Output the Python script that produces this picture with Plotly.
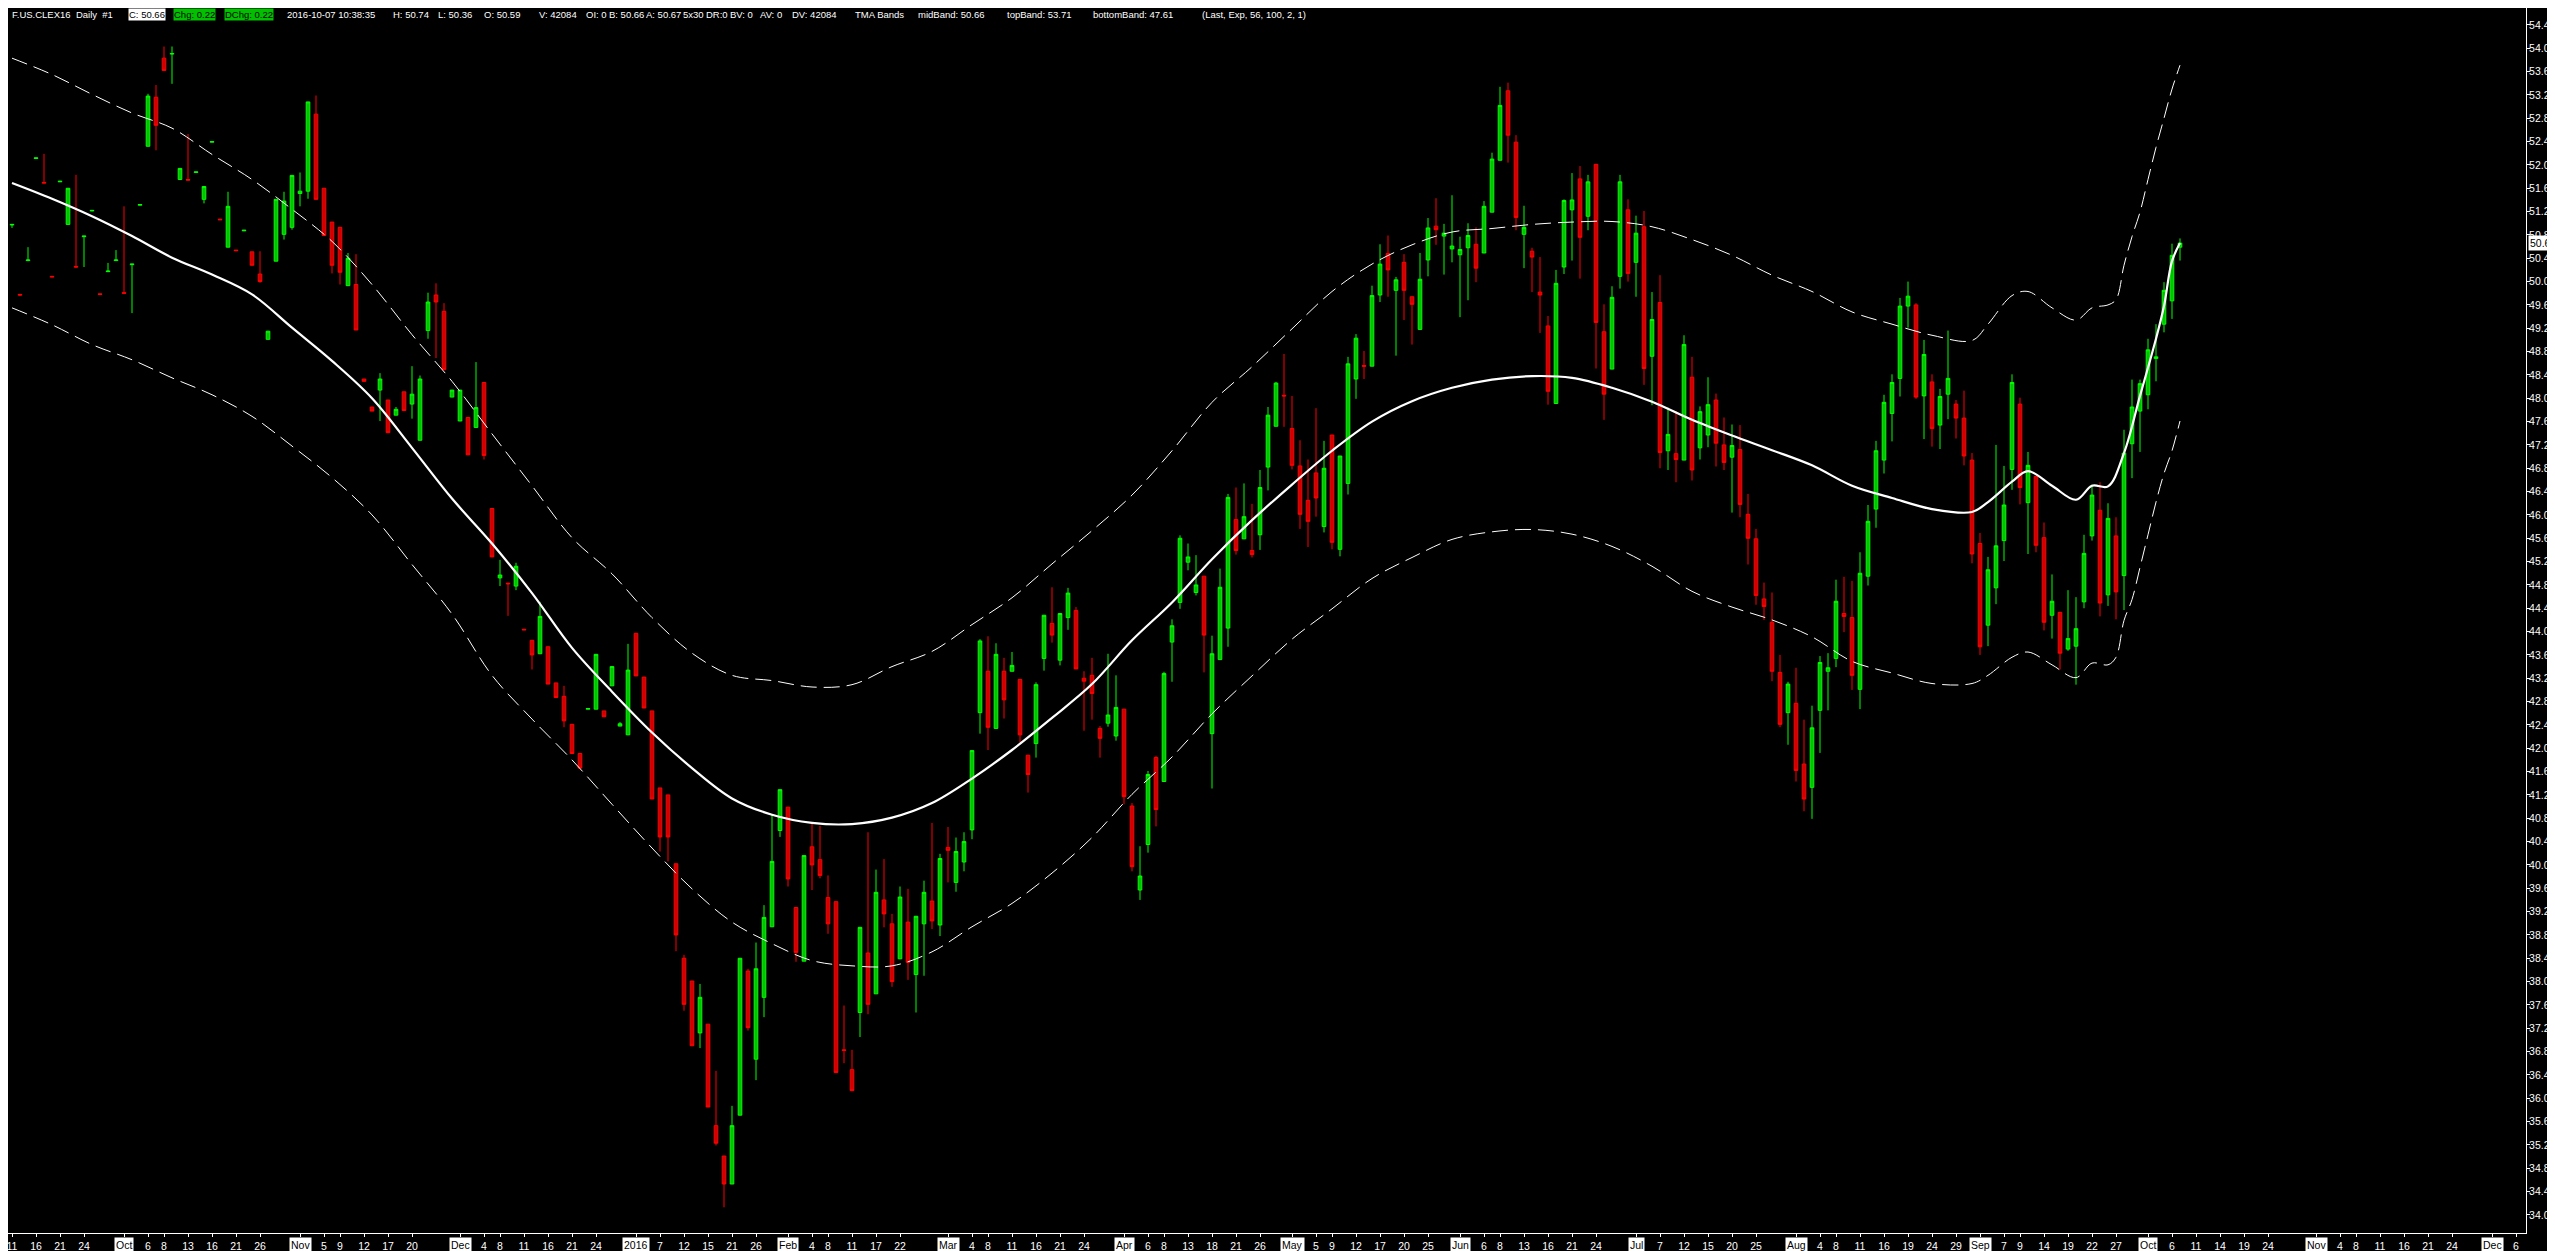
import pandas as pd
import plotly.graph_objects as go

# ---------------- data ----------------
OPEN = [50.97,49.78,50.36,52.11,51.70,50.09,51.71,50.98,50.26,50.77,
        51.21,49.79,50.17,50.36,49.81,50.29,51.31,52.32,53.16,53.83,
        53.90,51.75,51.75,51.87,51.41,52.39,51.07,50.59,50.54,50.87,
        50.51,50.13,49.01,50.35,50.81,50.93,51.51,51.55,52.87,51.60,
        51.02,50.93,49.93,49.95,48.33,47.85,48.14,47.97,47.71,48.11,
        47.90,47.28,49.16,49.77,49.49,48.02,47.61,47.67,47.50,48.27,
        46.11,44.92,44.83,44.78,44.04,43.85,43.62,43.74,43.12,42.89,
        42.41,41.91,42.67,42.67,42.64,43.07,42.38,42.23,43.97,43.22,
        42.64,41.32,41.20,40.02,38.40,38.01,37.12,37.27,35.53,35.01,
        34.53,35.71,38.18,36.67,37.73,38.94,40.59,40.99,39.27,38.35,
        40.31,40.09,39.44,39.37,36.83,36.49,37.47,38.49,37.79,39.40,
        38.99,38.39,39.02,38.12,38.99,39.38,38.97,40.30,39.70,40.05,
        40.60,42.61,43.32,42.34,43.32,43.32,43.18,41.88,42.08,43.54,
        44.14,43.51,44.24,44.36,43.20,43.25,42.34,42.43,42.21,42.67,
        41.01,39.57,40.35,41.84,41.43,43.82,44.50,45.19,44.67,44.95,
        42.25,43.52,44.06,45.92,45.59,45.39,45.66,46.82,47.52,48.05,
        47.48,46.84,46.25,46.72,45.80,47.37,45.41,46.54,48.33,48.56,
        48.55,49.77,50.48,49.85,50.33,49.74,49.18,50.37,50.95,50.78,
        50.56,50.46,50.58,50.64,50.49,51.19,52.08,53.27,52.39,50.81,
        50.52,49.82,49.24,47.91,50.25,51.23,51.76,51.12,52.01,49.14,
        48.50,50.09,51.23,50.33,50.94,48.72,49.64,47.10,47.05,46.94,
        48.36,47.15,47.37,47.97,47.20,46.99,47.12,46.01,45.59,44.56,
        44.16,43.30,42.61,42.77,41.73,41.33,42.65,43.32,43.54,44.31,
        44.24,43.01,44.95,46.10,46.94,47.74,48.34,49.58,49.60,48.04,
        48.28,47.54,48.07,47.90,47.66,46.94,45.51,44.11,44.75,45.56,
        46.78,47.90,46.21,46.66,45.61,44.28,44.33,43.70,43.75,44.51,
        45.64,46.08,44.63,45.64,44.96,47.22,47.78,48.06,48.68,49.27,
        49.67,50.59]
HIGH = [50.98,49.78,50.59,52.12,52.19,50.09,51.72,51.60,51.83,50.78,
        51.22,49.79,50.32,50.54,51.29,50.30,51.32,53.22,53.37,54.03,
        54.03,51.94,52.53,51.88,51.63,52.40,51.07,51.54,50.54,50.88,
        50.51,50.52,49.15,51.41,51.54,51.82,51.87,53.08,53.19,51.60,
        51.02,50.93,50.49,50.47,48.33,47.85,48.43,47.97,47.85,48.11,
        48.55,48.39,49.81,49.97,49.63,48.14,48.14,47.67,48.62,48.27,
        46.11,45.23,44.83,45.18,44.04,43.85,44.51,43.74,43.12,43.07,
        42.41,41.91,42.68,43.61,42.64,43.40,42.45,43.79,43.97,43.22,
        42.64,41.32,41.20,40.02,38.46,38.01,37.96,37.27,36.47,35.01,
        35.87,38.40,38.22,38.67,39.31,40.86,41.29,40.99,39.27,40.16,
        40.72,40.67,39.82,39.37,37.59,36.83,38.93,40.56,39.92,40.10,
        39.16,39.63,39.59,39.12,39.73,40.72,40.19,40.65,40.47,40.56,
        41.96,43.87,43.92,43.80,43.55,43.65,43.18,41.88,43.13,44.28,
        44.76,44.31,44.75,44.42,43.32,43.55,42.38,43.62,43.25,42.67,
        41.06,40.32,41.61,41.87,43.31,44.21,45.65,45.51,45.31,44.95,
        43.93,45.08,46.36,46.47,46.54,46.19,46.77,47.85,48.28,48.76,
        48.04,47.28,46.95,47.83,47.27,47.37,47.01,48.71,49.10,48.81,
        49.93,50.64,50.79,50.08,50.47,49.74,50.49,51.09,51.43,50.99,
        51.48,50.77,51.00,50.93,51.38,52.21,53.34,53.41,52.51,51.30,
        50.58,50.42,49.41,50.20,51.41,51.86,51.98,51.83,52.01,49.61,
        49.92,51.83,51.41,51.13,51.21,49.82,50.11,47.84,47.78,49.08,
        48.71,47.86,48.36,48.08,47.67,47.55,47.54,46.36,45.76,44.84,
        44.67,43.60,43.14,43.38,42.49,42.73,43.58,43.63,44.89,44.94,
        44.87,45.36,46.17,47.27,48.06,48.41,49.72,50.00,49.63,49.00,
        48.41,48.16,49.16,47.97,48.13,47.06,45.69,45.28,47.20,46.84,
        48.41,48.01,47.08,46.66,45.87,44.98,44.33,44.71,44.59,45.66,
        46.52,46.56,46.20,45.96,47.46,48.32,48.32,49.02,49.27,49.99,
        50.65,50.74]
LOW = [50.92,49.76,50.35,52.10,51.69,50.08,51.71,50.98,50.24,50.25,
       51.21,49.78,50.17,50.36,49.80,49.46,51.31,52.32,52.25,53.62,
       53.39,51.75,51.74,51.87,51.34,52.39,51.06,50.59,50.53,50.87,
       50.28,49.98,49.01,50.35,50.72,50.89,51.29,51.42,51.41,50.79,
       50.14,49.95,49.93,49.17,48.29,47.78,47.61,47.41,47.71,47.79,
       47.65,47.28,49.02,48.69,48.49,48.02,47.61,47.03,47.50,46.95,
       45.28,44.78,44.27,44.71,44.03,43.35,43.62,43.10,42.87,42.36,
       41.91,41.66,42.67,42.67,42.54,43.07,42.38,42.23,43.24,42.69,
       41.13,40.23,40.06,38.52,37.50,36.90,36.86,35.85,35.19,34.13,
       34.53,35.71,37.16,36.31,37.39,38.94,40.48,39.63,38.34,38.35,
       39.57,39.77,38.82,36.44,36.60,36.13,37.05,37.44,37.79,38.93,
       37.91,38.39,38.03,37.47,38.10,38.90,38.78,39.70,39.54,39.89,
       40.44,42.25,41.97,42.34,42.51,43.32,42.10,41.24,41.84,43.33,
       43.81,43.42,44.03,43.36,42.30,42.49,41.84,42.37,42.13,41.04,
       39.89,39.40,40.21,40.66,41.43,43.14,44.39,45.05,44.62,43.30,
       41.31,43.52,43.74,45.32,45.59,45.27,45.40,46.42,47.52,47.51,
       46.78,45.76,45.45,45.97,45.70,45.41,45.29,46.35,47.99,48.33,
       48.55,49.65,49.74,48.73,49.34,48.92,49.18,50.09,50.63,50.12,
       50.33,49.39,49.68,49.99,50.49,51.19,52.08,52.04,50.88,50.23,
       49.82,49.12,47.89,47.91,50.13,50.36,50.05,50.88,48.51,47.63,
       48.50,49.88,50.00,49.74,48.23,47.88,46.80,46.77,46.56,46.94,
       46.59,46.95,47.16,46.83,46.77,46.04,45.96,45.15,44.46,44.20,
       43.15,42.36,42.06,41.43,40.92,40.79,41.92,42.65,43.39,43.99,
       43.00,42.67,44.79,45.78,46.71,47.26,48.03,49.21,47.99,47.30,
       47.17,47.13,47.64,47.31,46.85,45.17,43.60,43.75,44.47,45.21,
       46.43,46.18,45.33,45.36,44.02,43.88,43.35,43.67,43.09,44.40,
       45.56,44.26,44.44,44.21,44.37,46.63,47.08,47.81,48.29,49.13,
       49.36,50.36]
CLOSE = [50.98,49.77,50.37,52.12,51.69,50.08,51.72,51.60,50.25,50.78,
         51.22,49.78,50.18,50.37,49.80,50.30,51.32,53.18,52.68,53.62,
         53.91,51.94,51.74,51.88,51.63,52.40,51.06,51.29,50.53,50.88,
         50.28,50.00,49.15,51.41,51.38,51.82,51.55,53.08,51.41,50.79,
         50.28,50.16,50.40,49.17,48.29,47.78,48.33,47.41,47.81,47.79,
         48.07,48.33,49.65,49.65,48.49,48.14,48.14,47.03,47.84,47.02,
         45.28,44.97,44.82,45.12,44.03,43.60,44.26,43.10,42.87,42.47,
         41.91,41.66,42.68,43.61,42.54,43.40,42.42,43.34,43.24,42.69,
         41.13,40.48,40.48,38.80,37.61,36.90,37.73,35.85,35.23,34.53,
         35.53,38.40,37.21,38.22,39.10,40.06,41.29,39.76,38.50,40.16,
         40.00,39.82,38.99,36.44,36.82,36.13,38.93,37.61,39.53,39.16,
         38.00,39.45,38.33,39.12,39.53,39.04,40.11,40.25,40.23,40.40,
         41.96,43.84,42.36,43.61,42.83,43.42,42.23,41.55,43.09,44.28,
         43.94,44.31,44.66,43.36,43.15,42.94,42.17,42.57,42.70,41.17,
         39.97,39.81,41.55,40.95,43.28,44.10,45.60,45.28,44.80,43.94,
         43.62,44.76,46.30,45.39,45.97,45.32,46.47,47.71,48.26,48.04,
         46.85,46.01,45.89,46.29,46.80,45.53,47.01,48.59,49.03,48.55,
         49.76,50.30,50.20,50.03,49.85,49.61,50.04,50.92,50.89,50.83,
         50.61,50.55,50.79,50.23,51.29,52.10,53.02,52.51,51.10,50.93,
         50.42,49.77,48.12,49.97,51.39,51.40,50.76,51.71,49.30,48.07,
         49.73,51.71,50.14,50.83,48.51,49.35,47.07,47.38,46.95,48.92,
         46.77,47.77,47.89,47.23,46.90,47.19,46.18,45.60,44.62,44.43,
         43.32,42.41,43.10,41.62,41.13,42.35,43.47,43.38,44.52,44.26,
         43.25,45.00,45.89,47.10,47.93,48.27,49.58,49.75,48.02,48.75,
         47.48,48.03,48.34,47.66,47.01,45.33,43.74,45.06,45.47,46.17,
         48.27,46.47,46.85,45.48,44.16,44.52,43.63,43.88,44.05,45.34,
         46.34,44.49,45.94,44.68,47.06,47.85,48.25,48.83,48.71,49.85,
         50.45,50.66]

# TMA bands, read at sample bars (bar index : value)
MID_I = [0,5,10,15,20,25,30,35,40,45,50,55,60,65,70,75,80,85,90,95,100,105,110,
         115,120,125,130,135,140,145,150,155,160,165,170,175,180,185,190,195,200,
         205,210,215,220,225,230,235,240,245,247,250,252,255,258,260,262,264,266,
         268,269,270,271]
MID_V = [51.69,51.42,51.12,50.78,50.41,50.12,49.78,49.21,48.64,48.00,47.15,46.28,
         45.51,44.66,43.72,42.97,42.27,41.66,41.14,40.86,40.72,40.70,40.81,41.06,
         41.48,41.97,42.52,43.10,43.85,44.50,45.24,45.91,46.52,47.10,47.60,47.95,
         48.18,48.32,48.38,48.35,48.18,47.94,47.63,47.36,47.11,46.85,46.50,46.29,
         46.10,46.05,46.22,46.57,46.75,46.50,46.26,46.50,46.49,47.06,48.04,49.02,
         49.58,50.35,50.66]
TOP_I = [0,5,10,15,20,25,30,35,40,45,50,55,60,65,70,75,80,85,90,95,100,105,110,
         115,120,125,130,135,140,145,150,155,160,165,170,175,180,185,190,195,200,
         205,210,215,220,225,230,235,240,245,247,250,252,255,258,260,262,263,264,
         265,266,267,268,269,270,271]
TOP_V = [53.83,53.55,53.21,52.89,52.63,52.18,51.75,51.24,50.69,49.95,49.09,48.29,
         47.39,46.50,45.61,44.99,44.24,43.63,43.25,43.16,43.05,43.09,43.40,43.66,
         44.12,44.58,45.16,45.73,46.34,47.10,47.93,48.54,49.19,49.83,50.30,50.63,
         50.85,50.91,50.98,51.02,51.03,50.94,50.72,50.45,50.11,49.83,49.48,49.27,
         49.08,48.99,49.27,49.76,49.83,49.55,49.34,49.55,49.60,49.69,50.28,50.77,
         51.19,51.75,52.30,52.80,53.30,53.71]
BOT_I = [0,5,10,15,20,25,30,35,40,45,50,55,60,65,70,75,80,85,90,95,100,105,110,
         115,120,125,130,135,140,145,150,155,160,165,170,175,180,185,190,195,200,
         205,210,215,220,225,230,235,240,245,247,250,252,255,258,260,262,263,264,
         265,266,267,268,269,270,271]
BOT_V = [49.55,49.26,48.92,48.66,48.35,48.06,47.69,47.18,46.64,46.00,45.15,44.30,
         43.25,42.50,41.80,41.04,40.29,39.59,39.02,38.65,38.36,38.27,38.27,38.51,
         38.94,39.34,39.86,40.47,41.21,41.85,42.59,43.24,43.87,44.39,44.91,45.27,
         45.58,45.71,45.75,45.67,45.46,45.12,44.69,44.42,44.20,43.91,43.49,43.29,
         43.11,43.11,43.25,43.56,43.65,43.43,43.21,43.46,43.43,43.56,44.19,44.55,
         45.10,45.66,46.22,46.71,47.10,47.61]

HOLIDAYS = ["2015-11-26","2015-12-25","2016-01-01","2016-01-18","2016-02-15",
            "2016-03-25","2016-05-30","2016-07-04","2016-09-05"]
TICK_DATES = ["2015-09-11","2015-09-16","2015-09-21","2015-09-24",
              "2015-10-06","2015-10-08","2015-10-13","2015-10-16","2015-10-21","2015-10-26",
              "2015-11-05","2015-11-09","2015-11-12","2015-11-17","2015-11-20",
              "2015-12-04","2015-12-08","2015-12-11","2015-12-16","2015-12-21","2015-12-24",
              "2016-01-07","2016-01-12","2016-01-15","2016-01-21","2016-01-26",
              "2016-02-04","2016-02-08","2016-02-11","2016-02-17","2016-02-22",
              "2016-03-04","2016-03-08","2016-03-11","2016-03-16","2016-03-21","2016-03-24",
              "2016-04-06","2016-04-08","2016-04-13","2016-04-18","2016-04-21","2016-04-26",
              "2016-05-05","2016-05-09","2016-05-12","2016-05-17","2016-05-20","2016-05-25",
              "2016-06-06","2016-06-08","2016-06-13","2016-06-16","2016-06-21","2016-06-24",
              "2016-07-07","2016-07-12","2016-07-15","2016-07-20","2016-07-25",
              "2016-08-04","2016-08-08","2016-08-11","2016-08-16","2016-08-19","2016-08-24","2016-08-29",
              "2016-09-07","2016-09-09","2016-09-14","2016-09-19","2016-09-22","2016-09-27",
              "2016-10-06","2016-10-11","2016-10-14","2016-10-19","2016-10-24",
              "2016-11-04","2016-11-08","2016-11-11","2016-11-16","2016-11-21","2016-11-24",
              "2016-12-06"]
MONTH_DATES = ["2015-10-01","2015-11-02","2015-12-01","2016-01-04","2016-02-01",
               "2016-03-01","2016-04-01","2016-05-02","2016-06-01","2016-07-01",
               "2016-08-01","2016-09-01","2016-10-03","2016-11-01","2016-12-01"]
MONTH_TEXT = ["Oct","Nov","Dec","2016","Feb","Mar","Apr","May","Jun","Jul",
              "Aug","Sep","Oct","Nov","Dec"]

# ---------------- calendar -> bar index ----------------
past = [d for d in pd.bdate_range("2015-09-11", "2016-10-07")
        if d.strftime("%Y-%m-%d") not in HOLIDAYS]
future = list(pd.bdate_range("2016-10-10", "2016-12-09"))
cal = [d.strftime("%Y-%m-%d") for d in past + future]
pos = {d: i for i, d in enumerate(cal)}
bars = list(range(len(OPEN)))

tickvals = [pos[d] for d in TICK_DATES] + [pos[d] for d in MONTH_DATES]
ticktext = [str(int(d[-2:])) for d in TICK_DATES] + ["" for _ in MONTH_DATES]

FONT = "Liberation Sans, Arial, sans-serif"
HFS = 9.5    # header font size
AFS = 10.5   # axis font size
W, H = 2555, 1251
PL, PR, PB = 0, 37, 26
PW, PH = W - PL - PR, H - PB

fig = go.Figure()
fig.add_trace(go.Candlestick(
    x=bars, open=OPEN, high=HIGH, low=LOW, close=CLOSE,
    increasing=dict(line=dict(color="#00FF00", width=1), fillcolor="#00C000"),
    decreasing=dict(line=dict(color="#FF0000", width=1), fillcolor="#C80000"),
    whiskerwidth=0, showlegend=False, hoverinfo="skip"))
for xs, ys in ((TOP_I, TOP_V), (BOT_I, BOT_V)):
    fig.add_trace(go.Scatter(x=xs, y=ys, mode="lines", showlegend=False,
                             hoverinfo="skip",
                             line=dict(color="#FFFFFF", width=1, dash="16px,7px",
                                       shape="spline", smoothing=1.0)))
fig.add_trace(go.Scatter(x=MID_I, y=MID_V, mode="lines", showlegend=False,
                         hoverinfo="skip",
                         line=dict(color="#FFFFFF", width=2.2, shape="spline",
                                   smoothing=1.0)))

ann = []
# month labels (boxed)
for d, t in zip(MONTH_DATES, MONTH_TEXT):
    ann.append(dict(x=pos[d], xref="x", y=-12 / PH, yref="paper", text=t,
                    showarrow=False, xanchor="center", yanchor="middle",
                    bgcolor="#FFFFFF", borderpad=1,
                    font=dict(family=FONT, size=AFS, color="#000000")))
# current-day marker in price-axis column
ann.append(dict(x=2546 / PW, xref="paper", y=-12 / PH, yref="paper", text="7",
                showarrow=False, xanchor="center", yanchor="middle",
                bgcolor="#00C000", borderpad=2,
                font=dict(family=FONT, size=AFS, color="#000000")))
# last price tag
ann.append(dict(x=2520 / PW, xref="paper", y=CLOSE[-1], yref="y", text="50.66",
                showarrow=False, xanchor="left", yanchor="middle",
                bgcolor="#FFFFFF", borderpad=1,
                font=dict(family=FONT, size=AFS, color="#000000")))
# header line (pieces anchored where they sit in the reference)
header = [
    (3, "F.US.CLEX16  Daily  #1", None, "#FFFFFF"),
    (120, "C: 50.66", "#FFFFFF", "#000000"),
    (165, "Chg: 0.22", "#00C000", "#000000"),
    (216, "DChg: 0.22", "#00C000", "#000000"),
    (278, "2016-10-07 10:38:35", None, "#FFFFFF"),
    (384, "H: 50.74", None, "#FFFFFF"),
    (429, "L: 50.36", None, "#FFFFFF"),
    (475, "O: 50.59", None, "#FFFFFF"),
    (530, "V: 42084", None, "#FFFFFF"),
    (577, "OI: 0", None, "#FFFFFF"),
    (600, "B: 50.66", None, "#FFFFFF"),
    (637, "A: 50.67", None, "#FFFFFF"),
    (674, "5x30", None, "#FFFFFF"),
    (697, "DR:0", None, "#FFFFFF"),
    (721, "BV: 0", None, "#FFFFFF"),
    (751, "AV: 0", None, "#FFFFFF"),
    (783, "DV: 42084", None, "#FFFFFF"),
    (846, "TMA Bands", None, "#FFFFFF"),
    (909, "midBand: 50.66", None, "#FFFFFF"),
    (998, "topBand: 53.71", None, "#FFFFFF"),
    (1084, "bottomBand: 47.61", None, "#FFFFFF"),
    (1193, "(Last, Exp, 56, 100, 2, 1)", None, "#FFFFFF"),
]
for px, t, bg, fc in header:
    a = dict(x=px / PW, xref="paper", y=1 - 7 / PH, yref="paper", text=t,
             showarrow=False, xanchor="left", yanchor="middle", borderpad=0,
             font=dict(family=FONT, size=HFS, color=fc))
    if bg:
        a["bgcolor"] = bg
    ann.append(a)

shapes = [
    dict(type="rect", xref="paper", yref="paper", x0=-0.01, x1=W / PW + 0.01,
         y0=-(1245 - PH) / PH, y1=-(H + 2 - PH) / PH,
         fillcolor="#F0F0F0", line=dict(width=0), layer="above"),
    dict(type="rect", xref="paper", yref="paper", x0=2519 / PW, x1=2536 / PW,
         y0=-(1245 - PH) / PH, y1=-(H + 2 - PH) / PH,
         fillcolor="#CDCDCD", line=dict(width=0), layer="above"),
]

fig.update_layout(
    width=W, height=H,
    margin=dict(l=PL, r=PR, t=0, b=PB, pad=0),
    paper_bgcolor="#000000", plot_bgcolor="#000000",
    boxgap=0.35,
    annotations=ann, shapes=shapes,
    xaxis=dict(range=[-0.5, 314.25], showgrid=False, zeroline=False,
               showline=True, linecolor="#FFFFFF", linewidth=1,
               ticks="outside", ticklen=3, tickcolor="#FFFFFF",
               tickmode="array", tickvals=tickvals, ticktext=ticktext,
               ticklabeloverflow="allow",
               tickfont=dict(family=FONT, size=AFS, color="#FFFFFF"),
               rangeslider=dict(visible=False), fixedrange=True),
    yaxis=dict(side="right", range=[33.69, 54.69], showgrid=False,
               zeroline=False, showline=True, linecolor="#FFFFFF",
               linewidth=1, ticks="outside", ticklen=3, tickcolor="#FFFFFF",
               tick0=34, dtick=0.4, tickformat=".2f",
               ticklabeloverflow="allow", ticklabelstandoff=-3,
               tickfont=dict(family=FONT, size=AFS, color="#FFFFFF"),
               fixedrange=True),
)
fig.write_html("out.html")
